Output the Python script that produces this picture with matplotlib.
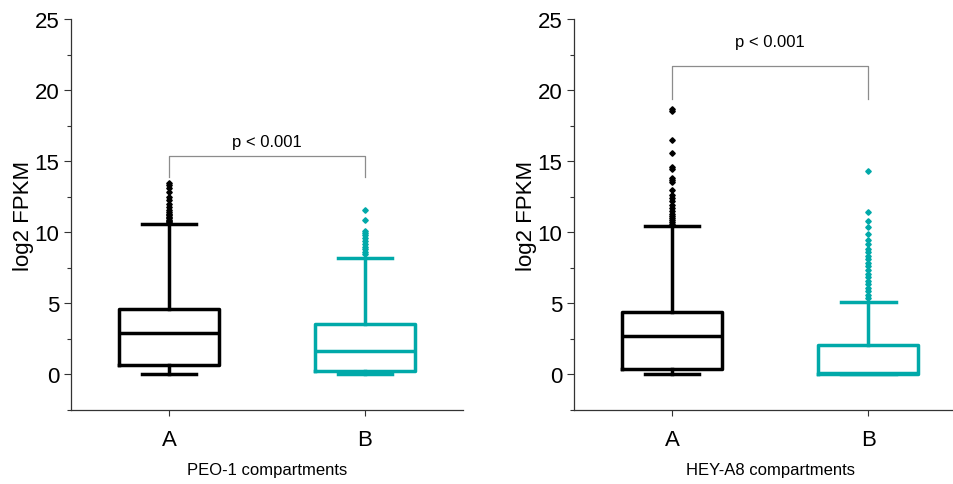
import matplotlib
matplotlib.use("Agg")
import matplotlib.pyplot as plt
from matplotlib.ticker import MultipleLocator

plt.rcParams['font.family'] = ['Liberation Sans', 'DejaVu Sans']

# box statistics: low whisker, Q1, median, Q3, high whisker
groups = ["A", "B"]
peo_stats = {
    "A": [0.0, 0.65, 2.95, 4.63, 10.55],
    "B": [0.0, 0.23, 1.64, 3.53, 8.2],
}
peo_fliers = {
    "A": [13.5, 13.3, 13.1, 12.85, 12.5, 12.25, 12.0, 11.8, 11.6, 11.45, 11.3,
          11.2, 11.1, 11.0, 10.9, 10.8, 10.7],
    "B": [11.6, 10.9, 10.1, 9.95, 9.8, 9.6, 9.4, 9.2, 9.0, 8.8, 8.6, 8.45],
}
hey_stats = {
    "A": [0.0, 0.35, 2.69, 4.4, 10.46],
    "B": [0.0, 0.0, 0.1, 2.06, 5.1],
}
hey_fliers = {
    "A": [18.65, 18.5, 16.5, 15.55, 14.6, 14.45, 13.8, 13.65, 13.55, 12.95,
          12.6, 12.4, 12.2, 11.9, 11.7, 11.5, 11.3, 11.15, 11.0, 10.85, 10.7, 10.6],
    "B": [14.3, 11.45, 10.8, 10.4, 9.85, 9.45, 9.2, 8.85, 8.6, 8.35, 8.1, 7.85,
          7.6, 7.35, 7.1, 6.85, 6.6, 6.35, 6.1, 5.85, 5.6, 5.4],
}
colors = {"A": "black", "B": "#00A9A9"}

# significance brackets: (bar height, leg bottom, text y)
peo_bracket = (15.4, 13.9, 16.4)
hey_bracket = (21.7, 19.4, 23.45)

fig = plt.figure(figsize=(9.54, 4.85), dpi=100)
ax1 = fig.add_axes([0.0744, 0.1526, 0.411, 0.806])
ax2 = fig.add_axes([0.6017, 0.1526, 0.411, 0.806])


def draw_panel(ax, stats, fliers, bracket, xlabel):
    for i, g in enumerate(groups):
        lo, q1, med, q3, hi = stats[g]
        s = dict(whislo=lo, q1=q1, med=med, q3=q3, whishi=hi,
                 fliers=fliers[g], label=g)
        c = colors[g]
        ax.bxp([s], positions=[i + 1], widths=0.51, capwidths=0.28,
               boxprops=dict(color=c, linewidth=2.5),
               whiskerprops=dict(color=c, linewidth=2.5),
               capprops=dict(color=c, linewidth=2.5),
               medianprops=dict(color=c, linewidth=2.5),
               flierprops=dict(marker='D', markersize=2.8, markerfacecolor=c,
                               markeredgecolor=c, linestyle='none'),
               manage_ticks=False)
    top, leg, ty = bracket
    ax.plot([1, 1, 2, 2], [leg, top, top, leg], color='#8c8c8c', lw=0.9)
    ax.text(1.5, ty, "p < 0.001", ha='center', va='center', fontsize=12)

    ax.set_xlim(0.5, 2.5)
    ax.set_ylim(-2.5, 25)
    ax.set_xticks([1, 2])
    ax.set_xticklabels(groups, fontsize=16)
    ax.yaxis.set_major_locator(MultipleLocator(5))
    ax.yaxis.set_minor_locator(MultipleLocator(2.5))
    ax.tick_params(axis='y', labelsize=16, length=5, width=0.8, color='#333333')
    ax.tick_params(axis='y', which='minor', length=3, width=0.8, color='#333333')
    ax.tick_params(axis='x', length=4, width=0.8, color='#333333', pad=10)
    ax.set_ylabel("log2 FPKM", fontsize=16, labelpad=0)
    ax.set_xlabel(xlabel, fontsize=12, labelpad=8)
    for side in ('top', 'right'):
        ax.spines[side].set_visible(False)
    for side in ('left', 'bottom'):
        ax.spines[side].set_color('#333333')
        ax.spines[side].set_linewidth(0.9)


draw_panel(ax1, peo_stats, peo_fliers, peo_bracket, "PEO-1 compartments")
draw_panel(ax2, hey_stats, hey_fliers, hey_bracket, "HEY-A8 compartments")

fig.savefig("out.png", dpi=100)
